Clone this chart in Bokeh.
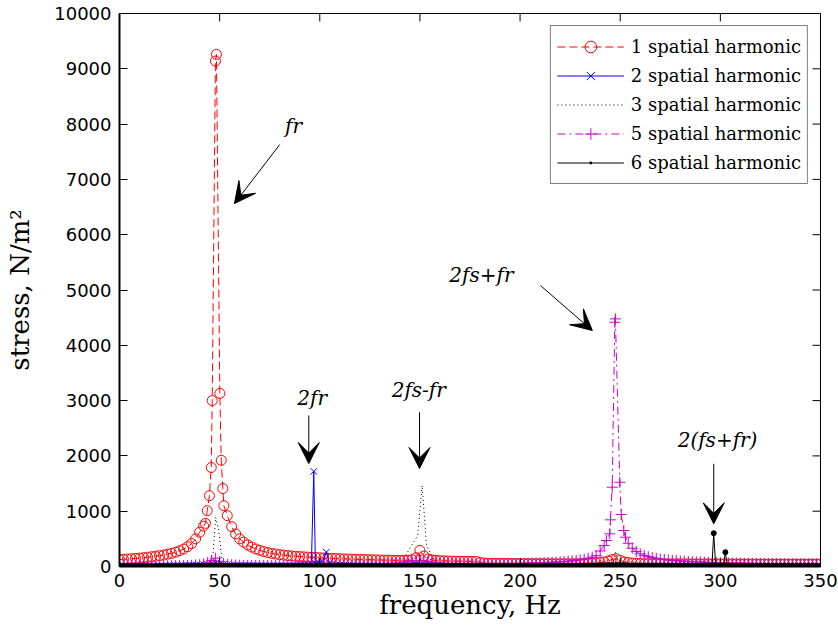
import math
from bokeh.plotting import figure
from bokeh.models import (Range1d, FixedTicker, Legend, LegendItem,
                          Arrow, VeeHead)
from bokeh.core.properties import value
from bokeh.embed import file_html
from bokeh.resources import INLINE

# ---------------- data ----------------
FREQ_GRID = list(range(0, 351, 2))          # sampling grid, Hz

X_TICKS = [0, 50, 100, 150, 200, 250, 300, 350]
Y_TICKS = [0, 1000, 2000, 3000, 4000, 5000, 6000, 7000, 8000, 9000, 10000]

SERIES_LABELS = ["1 spatial harmonic", "2 spatial harmonic", "3 spatial harmonic",
                 "5 spatial harmonic", "6 spatial harmonic"]

# 1 spatial harmonic (grid values, None = covered by detail points)
RED_GRID = [
    125, 130, 135, 140, 146, 152, 160, 168, 176, 186,
    196, 208, 222, 238, 258, 284, 316, 358, 415, 500,
    620, 730, None, None, None, None, None, None, 720, 590,
    500, 440, 390, 350, 318, 292, 270, 252, 238, 226,
    215, 206, 198, 191, 185, 180, 175, 170, 166, 162,
    158, 154, 150, 147, 144, 141, 138, 135, 132, 130,
    128, 126, 124, 122, 120, 118, 116, 114, 112, 111,
    110, 111, 114, 122, 160, 290, 190, 135, 118, 110,
    106, 103, 100, 98, 96, 95, 94, 93, 92, 91,
    72, 62, 58, 57, 56, 55, 55, 54, 54, 53,
    53, 52, 52, 51, 51, 50, 50, 50, 50, 49,
    49, 49, 49, 50, 51, 52, 54, 57, 60, 65,
    72, 82, 100, 125, 140, 110, 85, 70, 62, 57,
    54, 52, 51, 50, 50, 49, 49, 48, 48, 48,
    48, 47, 47, 47, 47, 46, 46, 46, 46, 46,
    46, 46, 46, 45, 45, 45, 45, 45, 45, 45,
    45, 45, 44, 44, 44, 44, 44, 44, 44, 44,
    44, 44, 44, 44, 44, 44]
RED_DETAIL_F = [42.9, 43.8, 44.9, 45.8, 46.3, 47.9, 48.4, 50.1, 50.8, 51.6, 52.1, 53.8]
RED_DETAIL_V = [780, 1010, 1280, 1790, 3000, 9140, 9260, 3130, 1920, 1410, 1100, 920]

# 2 spatial harmonic
BLUE_GRID = [
    12, 12, 12, 12, 12, 13, 13, 13, 14, 14,
    14, 15, 15, 16, 17, 18, 19, 21, 24, 28,
    30, 34, 40, 48, 60, 50, 40, 34, 30, 27,
    25, 23, 22, 21, 20, 20, 19, 19, 19, 19,
    19, 20, 20, 21, 22, 24, 26, 30, None, None,
    None, None, None, 40, 32, 27, 24, 22, 20, 19,
    18, 18, 17, 17, 17, 16, 16, 16, 16, 16,
    16, 17, 18, 20, 24, 30, 26, 20, 18, 17,
    16, 15, 15, 15, 14, 14, 14, 14, 14, 14,
    14, 14, 13, 13, 13, 13, 13, 13, 13, 13,
    13, 13, 12, 12, 12, 12, 12, 12, 12, 12,
    12, 12, 12, 12, 13, 13, 13, 14, 14, 15,
    16, 17, 19, 21, 22, 20, 18, 16, 15, 14,
    14, 13, 13, 13, 12, 12, 12, 12, 12, 12,
    12, 12, 12, 12, 12, 12, 12, 12, 12, 12,
    12, 12, 12, 12, 11, 11, 11, 11, 11, 11,
    11, 11, 11, 11, 11, 11, 11, 11, 11, 11,
    11, 11, 11, 11, 11, 11]
BLUE_DETAIL_F = [95.8, 97.0, 97.8, 99.5, 101.5, 103.3, 104.8]
BLUE_DETAIL_V = [40, 1720, 60, 70, 90, 260, 60]

# 3 spatial harmonic
DOT_GRID = [
    15, 15, 15, 15, 16, 16, 16, 17, 17, 18,
    18, 19, 19, 20, 21, 22, 23, 25, 28, 32,
    38, 48, 60, None, None, None, 60, 42, 34, 29,
    26, 24, 23, 22, 21, 20, 20, 19, 19, 19,
    19, 19, 20, 20, 21, 22, 24, 26, 28, 30,
    28, 26, 24, 22, 21, 20, 20, 20, 20, 21,
    21, 22, 23, 24, 26, 28, 31, 36, 43, 55,
    90, None, None, None, None, None, None, None, None, 70,
    50, 40, 34, 30, 27, 25, 23, 22, 21, 20,
    20, 19, 19, 19, 18, 18, 18, 18, 18, 18,
    18, 18, 18, 18, 18, 19, 19, 19, 20, 20,
    21, 22, 23, 24, 26, 28, 31, 35, 41, 50,
    60, 68, 72, 70, None, 76, 70, 60, 50, 42,
    36, 32, 29, 27, 25, 24, 23, 22, 21, 21,
    20, 20, 20, 21, 22, 24, 28, 35, 50, 60,
    45, 32, 26, 23, 21, 20, 19, 19, 18, 18,
    18, 17, 17, 17, 17, 17, 16, 16, 16, 16,
    16, 16, 16, 16, 16, 16]
DOT_DETAIL_F = [45.0, 46.8, 48.0, 49.6, 51.2,
                142.8, 148.9, 151.1, 153.3, 157.0,
                246.5, 247.6, 248.8]
DOT_DETAIL_V = [90, 260, 890, 640, 110,
                200, 560, 1465, 380, 120,
                80, 260, 80]

# 5 spatial harmonic
MAG_GRID = [
    10, 10, 10, 10, 10, 11, 11, 11, 11, 12,
    12, 12, 13, 13, 14, 15, 16, 18, 21, 26,
    33, 45, 70, 110, 150, 90, 55, 40, 32, 27,
    24, 22, 20, 19, 18, 18, 17, 17, 17, 17,
    17, 17, 17, 18, 18, 19, 20, 22, 24, 26,
    24, 22, 21, 20, 20, 20, 20, 21, 22, 23,
    24, 26, 28, 30, 33, 36, 40, 45, 52, 60,
    70, 80, 92, 100, 105, 110, 100, 90, 80, 70,
    62, 56, 52, 48, 45, 43, 42, 41, 41, 41,
    41, 42, 43, 44, 45, 47, 49, 51, 53, 55,
    57, 59, 61, 63, 65, 67, 70, 73, 76, 80,
    85, 90, 96, 103, 111, 121, 133, 148, 168, 195,
    280, 380, None, None, None, None, None, 420, 330, 270,
    230, 200, 178, 160, 146, 135, 126, 118, 111, 105,
    100, 95, 91, 87, 84, 81, 78, 75, 73, 71,
    69, 67, 65, 63, 62, 60, 59, 58, 57, 56,
    55, 54, 53, 52, 51, 51, 50, 49, 49, 48,
    48, 47, 47, 46, 46, 45]
MAG_DETAIL_F = [243.1, 244.8, 245.1, 246.0, 247.3, 247.6, 249.8, 250.5, 251.8, 252.6]
MAG_DETAIL_V = [470, 591, 844, 1434, 4417, 4478, 1524, 940, 651, 530]

# 6 spatial harmonic
BLK_GRID = [
    8, 8, 8, 8, 8, 8, 8, 8, 9, 9,
    9, 9, 9, 9, 10, 10, 10, 11, 11, 12,
    13, 14, 16, 18, 22, 18, 15, 13, 12, 11,
    11, 10, 10, 10, 10, 10, 10, 10, 10, 10,
    10, 10, 10, 10, 10, 11, 11, 12, 12, 13,
    13, 12, 12, 11, 11, 11, 11, 11, 11, 11,
    11, 11, 11, 11, 11, 11, 12, 12, 12, 13,
    13, 14, 15, 16, 17, 18, 17, 16, 15, 14,
    13, 13, 12, 12, 12, 12, 12, 12, 11, 11,
    11, 11, 11, 11, 11, 11, 11, 11, 11, 11,
    11, 11, 11, 11, 11, 11, 11, 11, 12, 12,
    12, 12, 12, 13, 13, 13, 14, 14, 15, 16,
    17, 18, 20, 22, 24, 22, 20, 18, 17, 16,
    15, 14, 14, 13, 13, 13, 13, 13, 13, 13,
    13, 13, 13, 14, 14, 15, 16, 18, None, None,
    16, None, 15, 14, 13, 13, 12, 12, 12, 12,
    12, 12, 12, 12, 12, 12, 12, 12, 11, 11,
    11, 11, 11, 11, 11, 11]
BLK_DETAIL_F = [295.8, 296.7, 297.6, 301.6, 302.5, 303.4]
BLK_DETAIL_V = [20, 602, 20, 20, 259, 20]

# annotations (data coordinates)
ANNOT_TEXT = ["fr", "2fr", "2fs-fr", "2fs+fr", "2(fs+fr)"]
ANNOT_X = [86.9, 96.2, 149.4, 180.7, 298.6]
ANNOT_Y = [7970, 3056, 3200, 5279, 2296]
ARROW_X0 = [80.0, 94.5, 149.8, 210.2, 296.7]
ARROW_Y0 = [7630, 2730, 2790, 5080, 1857]
ARROW_X1 = [57.4, 94.5, 149.8, 236.1, 296.7]
ARROW_Y1 = [6563, 1862, 1772, 4267, 772]


def merge(grid_vals, det_f, det_v):
    assert len(grid_vals) == len(FREQ_GRID)
    pts = [(f, v) for f, v in zip(FREQ_GRID, grid_vals) if v is not None]
    pts += list(zip(det_f, det_v))
    pts.sort()
    return [a for a, _ in pts], [b for _, b in pts]


# ---------------- figure ----------------
X_MIN, X_MAX = X_TICKS[0], X_TICKS[-1]
Y_MIN, Y_MAX = Y_TICKS[0], Y_TICKS[-1]

p = figure(width=838, height=630, output_backend="svg", toolbar_location=None,
           x_range=Range1d(X_MIN, X_MAX), y_range=Range1d(Y_MIN, Y_MAX),
           min_border_left=119, min_border_right=18, min_border_top=13,
           min_border_bottom=64)
p.grid.visible = False
p.outline_line_color = "black"
p.outline_line_width = 1
p.background_fill_color = "white"
p.border_fill_color = "white"

TICK_FONT = "DejaVu Sans"
SERIF = "DejaVu Serif"

p.xaxis.ticker = FixedTicker(ticks=X_TICKS)
p.yaxis.ticker = FixedTicker(ticks=Y_TICKS)

for ax in list(p.xaxis) + list(p.yaxis):
    ax.major_tick_in = 8
    ax.major_tick_out = 0
    ax.minor_tick_line_color = None
    ax.axis_line_color = "black"
    ax.axis_line_width = 2
    ax.major_tick_line_color = "black"
    ax.major_tick_line_width = 1
    ax.major_label_text_font = TICK_FONT
    ax.major_label_text_font_size = "18px"
    ax.major_label_text_color = "black"
    ax.axis_label_text_font = SERIF
    ax.axis_label_text_font_size = "26px"
    ax.axis_label_text_font_style = "normal"
    ax.axis_label_text_color = "black"

p.xaxis.major_label_standoff = 7
p.yaxis.major_label_standoff = 8
p.xaxis.axis_label = "frequency, Hz"
p.yaxis.axis_label = "stress, N/m²"
p.xaxis.axis_label_standoff = 0
p.yaxis.axis_label_standoff = 16

# inward tick marks on the top and right edges of the box
# (symmetric dashes centred on the edge; the outer half is clipped by the frame)
p.scatter(x=X_TICKS, y=[Y_MAX] * len(X_TICKS), marker="dash", size=16,
          angle=math.pi / 2, line_color="black", line_width=1)
p.scatter(x=[X_MAX] * len(Y_TICKS), y=Y_TICKS, marker="dash", size=16,
          line_color="black", line_width=1)

# ---------------- series ----------------
items = []

fx, fy = merge(RED_GRID, RED_DETAIL_F, RED_DETAIL_V)
l1 = p.line(fx, fy, line_color="#ff0000", line_width=1, line_dash="8 4")
m1 = p.scatter(fx, fy, marker="circle", size=10, line_color="#ff0000",
               fill_color=None, line_width=1)
items.append(LegendItem(label=SERIES_LABELS[0], renderers=[l1, m1]))

fx, fy = merge(BLUE_GRID, BLUE_DETAIL_F, BLUE_DETAIL_V)
l2 = p.line(fx, fy, line_color="#0000ff", line_width=1)
m2 = p.scatter(fx, fy, marker="x", size=9, line_color="#0000ff", line_width=1)
items.append(LegendItem(label=SERIES_LABELS[1], renderers=[l2, m2]))

fx, fy = merge(DOT_GRID, DOT_DETAIL_F, DOT_DETAIL_V)
l3 = p.line(fx, fy, line_color="black", line_width=1, line_dash="1 3")
items.append(LegendItem(label=SERIES_LABELS[2], renderers=[l3]))

fx, fy = merge(MAG_GRID, MAG_DETAIL_F, MAG_DETAIL_V)
l5 = p.line(fx, fy, line_color="#cc00cc", line_width=1, line_dash="8 4 2 4")
m5 = p.scatter(fx, fy, marker="cross", size=11, line_color="#cc00cc", line_width=1)
items.append(LegendItem(label=SERIES_LABELS[3], renderers=[l5, m5]))

fx, fy = merge(BLK_GRID, BLK_DETAIL_F, BLK_DETAIL_V)
l6 = p.line(fx, fy, line_color="black", line_width=1)
m6 = p.scatter(fx, fy, marker="circle", size=5, line_color="black",
               fill_color="black", line_width=1)
m6_key = p.scatter(fx, fy, marker="dot", size=18, line_color="black",
                   fill_color="black", line_width=1)
items.append(LegendItem(label=SERIES_LABELS[4], renderers=[l6, m6_key]))

# ---------------- annotations ----------------
for x0, y0, x1, y1 in zip(ARROW_X0, ARROW_Y0, ARROW_X1, ARROW_Y1):
    p.add_layout(Arrow(end=VeeHead(size=21, fill_color="black", line_color="black"),
                       x_start=x0, y_start=y0, x_end=x1, y_end=y1,
                       line_color="black", line_width=1))

p.text(x=ANNOT_X, y=ANNOT_Y, text=ANNOT_TEXT, text_font=value(SERIF),
       text_font_style="italic", text_font_size="20px", text_align="center",
       text_baseline="middle", text_color="black")

legend = Legend(items=items, location="top_right", margin=12,
                glyph_width=67, glyph_height=29, label_height=29,
                label_standoff=7, padding=6, spacing=0,
                border_line_color="black", border_line_width=1,
                background_fill_color="white", background_fill_alpha=1.0,
                label_text_font=SERIF, label_text_font_size="18px",
                label_text_color="black")
p.add_layout(legend)

open("out.html", "w").write(file_html(p, INLINE))
